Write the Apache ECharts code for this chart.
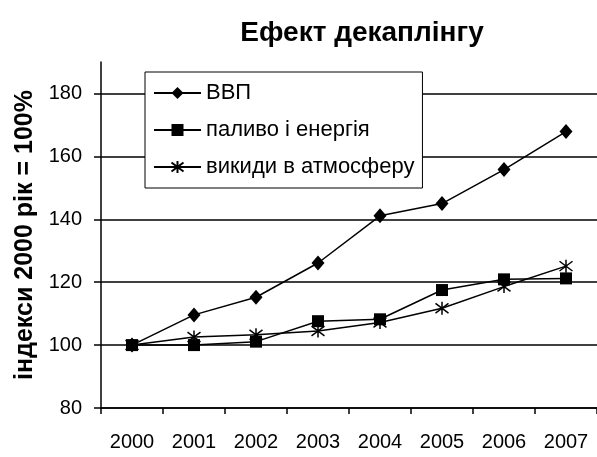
<!DOCTYPE html>
<html>
<head>
<meta charset="utf-8">
<script src="https://cdn.jsdelivr.net/npm/echarts@6/dist/echarts.min.js"></script>
<style>html,body{margin:0;padding:0;background:#fff}#c{width:597px;height:457px}</style>
</head>
<body>
<div id="c"></div>
<script>
const years = ['2000','2001','2002','2003','2004','2005','2006','2007'];
const gdp = [100, 109.6, 115.2, 126.1, 141.1, 145.0, 155.8, 167.9];
const fuel = [100, 100.0, 101.1, 107.6, 108.2, 117.5, 120.9, 121.2];
const emissions = [100, 102.6, 103.3, 104.5, 107.2, 111.7, 118.6, 125.1];
const seriesNames = ['ВВП', 'паливо і енергія', 'викиди в атмосферу'];
const titleText = 'Ефект декаплінгу';
const yAxisName = 'індекси 2000 рік = 100%';

const FONT = 'Liberation Sans, Arial, sans-serif';
const star = 'path://M0,-10 L0,10 M-7.5,-7.5 L7.5,7.5 M-7.5,7.5 L7.5,-7.5';

const chart = echarts.init(document.getElementById('c'), null, {renderer: 'canvas'});
const mk = (name, data, symbol, size, extra) => Object.assign({
  name, type: 'line', data, symbol, symbolSize: size, showAllSymbol: true,
  lineStyle: {color: '#000', width: 1.5},
  itemStyle: {color: '#000', borderColor: '#000', borderWidth: 0},
  animation: false
}, extra || {});
chart.setOption({
  backgroundColor: '#fff',
  animation: false,
  title: {
    text: titleText, left: 357, top: 14, textAlign: 'center',
    textStyle: {fontFamily: FONT, fontSize: 28, fontWeight: 'bold', color: '#000'}
  },
  legend: {
    orient: 'vertical', left: 145, top: 72,
    padding: [10, 8, 10, 8],
    itemWidth: 47, itemHeight: 15, itemGap: 15,
    borderColor: '#000', borderWidth: 1, backgroundColor: '#fff',
    textStyle: {fontFamily: FONT, fontSize: 22, color: '#000', lineHeight: 22},
    data: seriesNames
  },
  grid: {left: 101, right: 0, top: 62, bottom: 49, containLabel: false},
  xAxis: {
    type: 'category', data: years, boundaryGap: true,
    axisLine: {lineStyle: {color: '#000', width: 1.5}},
    axisTick: {show: true, length: 6, lineStyle: {color: '#000', width: 1.5}},
    axisLabel: {fontFamily: FONT, fontSize: 20, color: '#000', margin: 24}
  },
  yAxis: {
    type: 'value', min: 80, max: 190, interval: 20,
    name: yAxisName, nameLocation: 'middle', nameRotate: 90, nameGap: 55,
    nameTextStyle: {fontFamily: FONT, fontSize: 25, fontWeight: 'bold', color: '#000'},
    axisLine: {show: true, lineStyle: {color: '#000', width: 1.5}},
    axisTick: {show: true, length: 7, lineStyle: {color: '#000', width: 1.5}},
    axisLabel: {fontFamily: FONT, fontSize: 20, color: '#000', margin: 19, showMaxLabel: false},
    splitLine: {show: true, showMaxLine: false, lineStyle: {color: '#000', width: 1.5}}
  },
  series: [
    mk(seriesNames[0], gdp, 'diamond', [13, 15]),
    mk(seriesNames[1], fuel, 'rect', 12),
    mk(seriesNames[2], emissions, star, 13, {itemStyle: {color: '#000', borderColor: '#000', borderWidth: 1.5}})
  ]
});
</script>
</body>
</html>
